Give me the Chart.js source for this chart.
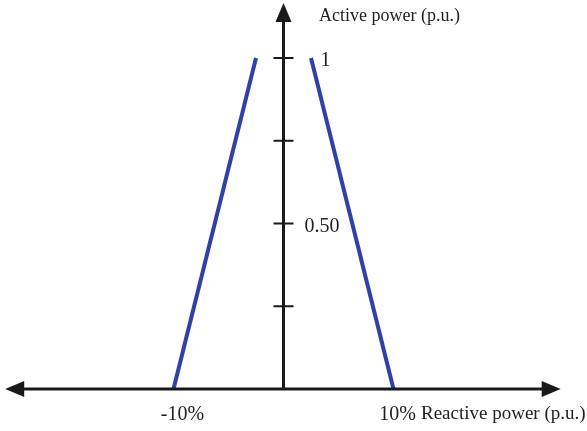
<!DOCTYPE html>
<html>
<head>
<meta charset="utf-8">
<script src="https://cdn.jsdelivr.net/npm/chart.js@4"></script>
<style>
  html, body { margin: 0; padding: 0; background: #fff; }
  #wrap { width: 587px; height: 431px; }
</style>
</head>
<body>
<div id="wrap"><canvas id="pqChart" width="587" height="431"></canvas></div>
<script>
// Reactive power (%) and active power (p.u.) of the two boundary lines
const leftQ = [-10, -2.5];
const leftP = [0, 1];
const rightQ = [2.5, 10];
const rightP = [1, 0];

// Axis ticks and labels
const yTickValues = [0.25, 0.5, 0.75, 1];
const yTickLabels = ['', '0.50', '', '1'];
const xTickValues = [-10, 10];
const xTickLabels = ['-10%', '10%'];
const xTitle = 'Reactive power (p.u.)';
const yTitle = 'Active power (p.u.)';

const toPoints = (xs, ys) => xs.map((x, i) => ({ x: x, y: ys[i] }));

// Draws the cross-shaped axes with arrows, ticks and labels
const crossAxes = {
    id: 'crossAxes',
    afterDraw(chart) {
        const ctx = chart.ctx;
        const xs = chart.scales.x;
        const ys = chart.scales.y;
        const ox = xs.getPixelForValue(0);
        const oy = ys.getPixelForValue(0);
        const xl = xs.getPixelForValue(-25.3);
        const xr = xs.getPixelForValue(25.2);
        const yt = ys.getPixelForValue(1.166);

        ctx.save();
        ctx.strokeStyle = '#1a1a1a';
        ctx.fillStyle = '#1a1a1a';
        ctx.lineWidth = 3;

        // x axis
        ctx.beginPath();
        ctx.moveTo(xl + 10, oy);
        ctx.lineTo(xr - 10, oy);
        ctx.stroke();
        // y axis
        ctx.beginPath();
        ctx.moveTo(ox, oy);
        ctx.lineTo(ox, yt + 10);
        ctx.stroke();

        // arrow heads
        ctx.beginPath();
        ctx.moveTo(xl, oy);
        ctx.lineTo(xl + 19, oy - 8);
        ctx.lineTo(xl + 19, oy + 8);
        ctx.closePath();
        ctx.fill();
        ctx.beginPath();
        ctx.moveTo(xr, oy);
        ctx.lineTo(xr - 19, oy - 8);
        ctx.lineTo(xr - 19, oy + 8);
        ctx.closePath();
        ctx.fill();
        ctx.beginPath();
        ctx.moveTo(ox, yt);
        ctx.lineTo(ox - 8, yt + 19);
        ctx.lineTo(ox + 8, yt + 19);
        ctx.closePath();
        ctx.fill();

        // y ticks
        ctx.lineWidth = 2;
        yTickValues.forEach(v => {
            const py = ys.getPixelForValue(v);
            ctx.beginPath();
            ctx.moveTo(ox - 10, py);
            ctx.lineTo(ox + 10, py);
            ctx.stroke();
        });

        // labels
        ctx.fillStyle = '#222';
        ctx.textBaseline = 'middle';
        ctx.font = '20px "Liberation Serif", "DejaVu Serif", serif';
        ctx.textAlign = 'left';
        yTickValues.forEach((v, i) => {
            if (!yTickLabels[i]) return;
            const py = ys.getPixelForValue(v);
            const dx = yTickLabels[i].length > 1 ? 21 : 37;
            ctx.fillText(yTickLabels[i], ox + dx, py + 3);
        });
        ctx.textAlign = 'center';
        xTickValues.forEach((v, i) => {
            const px = xs.getPixelForValue(v);
            ctx.fillText(xTickLabels[i], px + (v < 0 ? 9 : 4), oy + 26);
        });

        ctx.textAlign = 'left';
        ctx.font = '19px "Liberation Serif", "DejaVu Serif", serif';
        ctx.fillText(xTitle, 421, oy + 25);
        ctx.font = '18px "Liberation Serif", "DejaVu Serif", serif';
        ctx.fillText(yTitle, 319, 16);
        ctx.restore();
    }
};

const ctx = document.getElementById('pqChart').getContext('2d');
const pqChart = new Chart(ctx, {
    type: 'scatter',
    data: {
        datasets: [{
            data: toPoints(leftQ, leftP),
            showLine: true,
            borderColor: '#3041a3',
            borderWidth: 4,
            pointRadius: 0
        }, {
            data: toPoints(rightQ, rightP),
            showLine: true,
            borderColor: '#3041a3',
            borderWidth: 4,
            pointRadius: 0
        }]
    },
    options: {
        responsive: false,
        animation: false,
        layout: { padding: 0 },
        plugins: {
            legend: { display: false },
            tooltip: { enabled: false }
        },
        scales: {
            x: {
                type: 'linear',
                display: false,
                min: -283.5 / 11,
                max: (587 - 283.5) / 11
            },
            y: {
                type: 'linear',
                display: false,
                min: -42 / 331,
                max: 389 / 331
            }
        }
    },
    plugins: [crossAxes]
});
</script>
</body>
</html>
